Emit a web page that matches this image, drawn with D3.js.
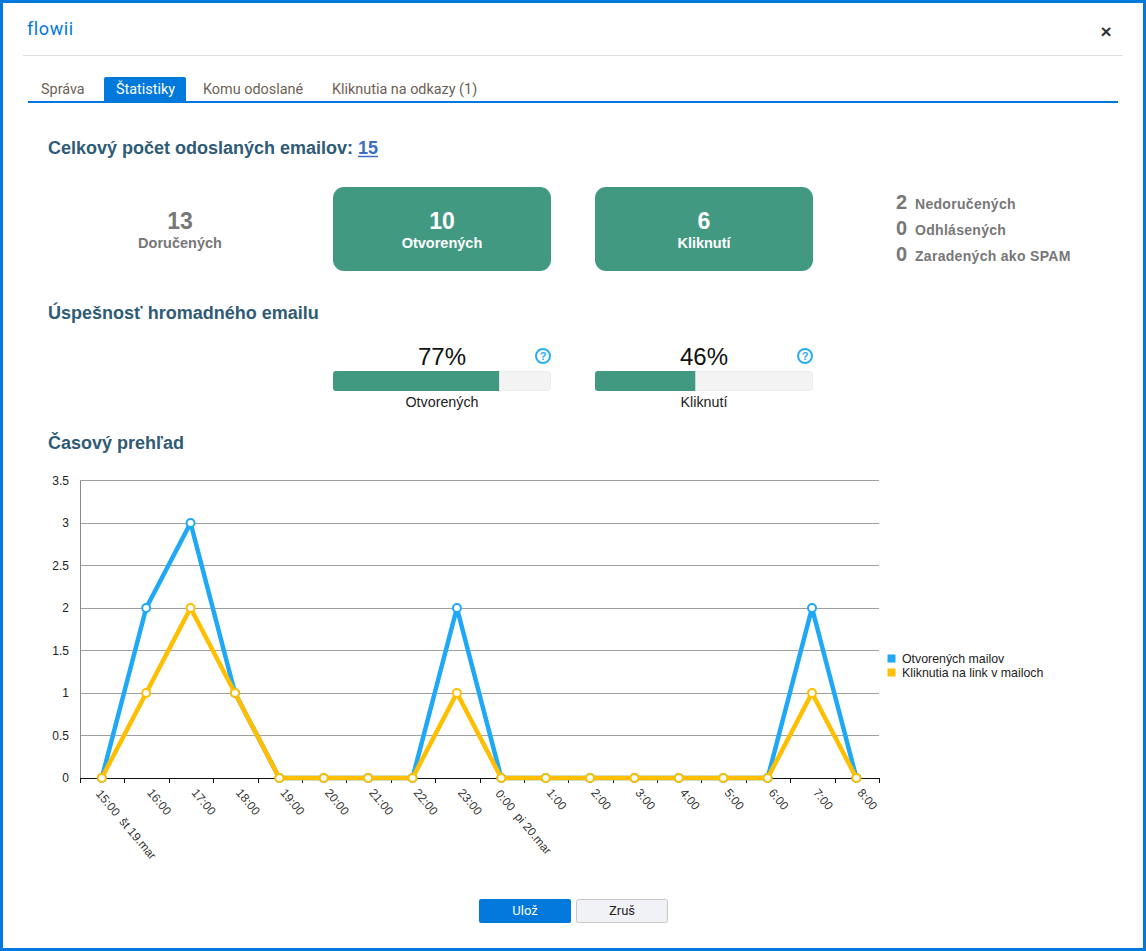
<!DOCTYPE html>
<html>
<head>
<meta charset="utf-8">
<script src="https://cdn.jsdelivr.net/npm/d3@7/dist/d3.min.js"></script>
<style>
  html, body { margin: 0; padding: 0; background: #fff; overflow: hidden; }
  text { font-family: "Liberation Sans", Arial, sans-serif; }
</style>
</head>
<body>
<div id="chart-area"></div>
<script>
// data
let hours = ["15:00", "16:00", "17:00", "18:00", "19:00", "20:00", "21:00", "22:00", "23:00",
  "0:00", "1:00", "2:00", "3:00", "4:00", "5:00", "6:00", "7:00", "8:00"];
let dayLabels = { "15:00": "št 19.mar", "0:00": "pi 20.mar" };
let opened = [0, 2, 3, 1, 0, 0, 0, 0, 2, 0, 0, 0, 0, 0, 0, 0, 2, 0];
let clicked = [0, 1, 2, 1, 0, 0, 0, 0, 1, 0, 0, 0, 0, 0, 0, 0, 1, 0];
let yTicks = [0, 0.5, 1, 1.5, 2, 2.5, 3, 3.5];
let seriesNames = ["Otvorených mailov", "Kliknutia na link v mailoch"];
let tabNames = ["Správa", "Štatistiky", "Komu odoslané", "Kliknutia na odkazy (1)"];
let sideCounts = [2, 0, 0];
let sideNames = ["Nedoručených", "Odhlásených", "Zaradených ako SPAM"];
let rateValues = [77, 46];
let rateFill = [76.2, 46];
let rateNames = ["Otvorených", "Kliknutí"];

let blue = "#0078dc", green = "#429982", heading = "#2f5b75", grey = "#777777";
let lineBlue = "#1fa8f6", lineOrange = "#ffbf00";

let svg = d3.select("#chart-area").append("svg")
  .attr("width", 1146).attr("height", 951).style("display", "block");

function label(x, y, str, size, fill, weight, anchor, family) {
  return svg.append("text")
    .attr("x", x).attr("y", y)
    .attr("font-size", size)
    .attr("fill", fill)
    .attr("font-weight", weight || "normal")
    .attr("text-anchor", anchor || "start")
    .style("font-family", family || null)
    .text(str);
}

// window frame
svg.append("rect").attr("x", 1.5).attr("y", 1.5).attr("width", 1143).attr("height", 948)
  .attr("fill", "#fff").attr("stroke", blue).attr("stroke-width", 3);

label(27, 35, "flowii", 18, blue, "normal", "start", "Roboto").attr("letter-spacing", 0.6);
svg.append("line").attr("x1", 23).attr("x2", 1123).attr("y1", 55.5).attr("y2", 55.5)
  .attr("stroke", "#dedede");
label(1106, 38, "×", 19, "#333", "bold", "middle");

// tabs
svg.append("rect").attr("x", 28).attr("y", 101).attr("width", 1090).attr("height", 2).attr("fill", blue);
svg.append("path").attr("d", "M104,102V79a2,2 0 0 1 2,-2H184a2,2 0 0 1 2,2V102Z").attr("fill", blue);
let tabX = [41, 116, 203, 332];
tabNames.forEach(function(d, i) {
  label(tabX[i], 94, d, 14.4, i === 1 ? "#fff" : "#6e5f55", "normal", "start", "Roboto");
});

// totals
label(48, 154, "Celkový počet odoslaných emailov:", 18, heading, "bold");
label(358, 154, "15", 18, "#3a6fc4", "bold");
svg.append("line").attr("x1", 358).attr("x2", 378).attr("y1", 156.5).attr("y2", 156.5)
  .attr("stroke", "#3a6fc4").attr("stroke-width", 1.5);

label(180, 229, "13", 23, grey, "bold", "middle");
label(180, 248, "Doručených", 14.5, grey, "bold", "middle");

[[333, "10", "Otvorených"], [595, "6", "Kliknutí"]].forEach(function(d) {
  svg.append("rect").attr("x", d[0]).attr("y", 187).attr("width", 218).attr("height", 84)
    .attr("rx", 11).attr("fill", green);
  label(d[0] + 109, 229, d[1], 23, "#fff", "bold", "middle");
  label(d[0] + 109, 248, d[2], 14.5, "#fff", "bold", "middle");
});

sideCounts.forEach(function(d, i) {
  let y = 209 + i * 26;
  label(896, y, d, 20, grey, "bold");
  label(915, y, sideNames[i], 14, grey, "bold").attr("letter-spacing", 0.3);
});

// rates
label(48, 319, "Úspešnosť hromadného emailu", 18, heading, "bold");
let rateScale = d3.scaleLinear().domain([0, 100]).range([0, 218]);
let barX = [333, 595];
rateValues.forEach(function(d, i) {
  let x = barX[i];
  svg.append("rect").attr("x", x + 0.5).attr("y", 371.5).attr("width", 217).attr("height", 19)
    .attr("rx", 3).attr("fill", "#f3f3f3").attr("stroke", "#ececec");
  svg.append("path")
    .attr("d", "M" + (x + rateScale(rateFill[i])) + ",371H" + (x + 3) + "a3,3 0 0 0 -3,3V388a3,3 0 0 0 3,3H" + (x + rateScale(rateFill[i])) + "Z")
    .attr("fill", green);
  label(x + 109, 365, d + "%", 24, "#111", "normal", "middle");
  label(x + 109, 407, rateNames[i], 14.3, "#222", "normal", "middle");
  svg.append("circle").attr("cx", x + 210).attr("cy", 356).attr("r", 7)
    .attr("fill", "#fff").attr("stroke", "#2aaef5").attr("stroke-width", 2);
  label(x + 210, 360, "?", 11, "#2aaef5", "bold", "middle");
});

// time chart
label(48, 449, "Časový prehľad", 18, heading, "bold");

let margin = { top: 480.5, left: 80 };
let width = 799, height = 297.5;

let xScale = d3.scaleBand().domain(hours).range([0, width]);
let yScale = d3.scaleLinear().domain([0, 3.5]).range([height, 0]);

let bigG = svg.append("g")
  .attr("transform", "translate(" + margin.left + "," + margin.top + ")");

// horizontal grid
bigG.selectAll(".grid").data(yTicks.slice(1)).enter().append("line")
  .attr("x1", 0).attr("x2", width)
  .attr("y1", function(d) { return Math.round(yScale(d)); })
  .attr("y2", function(d) { return Math.round(yScale(d)); })
  .attr("stroke", "#a0a0a0");

let yAxis = d3.axisLeft(yScale).tickValues(yTicks).tickSize(0).tickPadding(11)
  .tickFormat(function(d) { return d; });
let gy = bigG.append("g").call(yAxis);
gy.select(".domain").attr("stroke", "#8a8a8a");
gy.selectAll("text").attr("font-size", 12).attr("fill", "#222").style("font-family", "Liberation Sans");

let xAxis = d3.axisBottom(xScale).tickSize(0).tickPadding(0);
let gx = bigG.append("g").attr("transform", "translate(0," + height + ")").call(xAxis);
gx.select(".domain").attr("stroke", "#111");
gx.selectAll(".tick text")
  .attr("font-size", 12).attr("fill", "#333").attr("text-anchor", "start")
  .style("font-family", "Liberation Sans")
  .attr("dy", 0).attr("y", 0)
  .attr("transform", function(d) {
    // the labels with a day name sit a little further left
    return (dayLabels[d] ? "translate(-7,16)" : "translate(0,15)") + " rotate(50)";
  })
  .attr("xml:space", "preserve")
  .text(function(d) { return dayLabels[d] ? d + "  " + dayLabels[d] : d; });

// ticks sit on the band edges
gx.selectAll(".edge").data(hours.concat(["end"])).enter().append("line")
  .attr("x1", function(d, i) { return Math.round(xScale.step() * i) + 0.5; })
  .attr("x2", function(d, i) { return Math.round(xScale.step() * i) + 0.5; })
  .attr("y1", 0).attr("y2", 5).attr("stroke", "#111");

let line = d3.line()
  .x(function(d, i) { return xScale(hours[i]) + xScale.bandwidth() / 2 - 0.4; })
  .y(function(d) { return yScale(d); });

[[opened, lineBlue], [clicked, lineOrange]].forEach(function(s) {
  bigG.append("path").attr("d", line(s[0])).attr("fill", "none")
    .attr("stroke", s[1]).attr("stroke-width", 4.5).attr("stroke-linejoin", "round");
  bigG.selectAll(".pt").data(s[0]).enter().append("circle")
    .attr("cx", function(d, i) { return xScale(hours[i]) + xScale.bandwidth() / 2 - 0.4; })
    .attr("cy", function(d) { return yScale(d); })
    .attr("r", 4).attr("fill", "#fff").attr("stroke", s[1]).attr("stroke-width", 2);
});

// legend
[lineBlue, lineOrange].forEach(function(c, i) {
  let y = 658.5 + i * 14;
  svg.append("rect").attr("x", 887.5).attr("y", y - 4).attr("width", 8).attr("height", 8).attr("fill", c);
  label(902, y + 4.5, seriesNames[i], 12.35, "#222");
});

// buttons
svg.append("rect").attr("x", 479).attr("y", 899).attr("width", 92).attr("height", 24).attr("rx", 2).attr("fill", blue);
label(525, 915, "Ulož", 13, "#fff", "normal", "middle", "Roboto");
svg.append("rect").attr("x", 576.5).attr("y", 899.5).attr("width", 91).attr("height", 23).attr("rx", 2)
  .attr("fill", "#f1f2f5").attr("stroke", "#c8c8c8");
label(622, 915, "Zruš", 13, "#222", "normal", "middle", "Roboto");
</script>
</body>
</html>
